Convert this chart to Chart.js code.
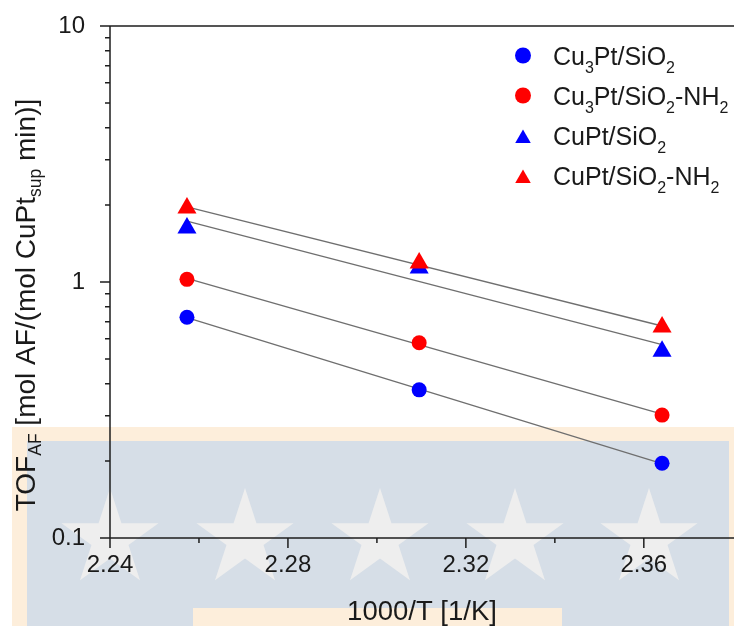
<!DOCTYPE html>
<html>
<head>
<meta charset="utf-8">
<script src="https://cdn.jsdelivr.net/npm/chart.js@4.4.1/dist/chart.umd.min.js"></script>
<style>
  html, body { margin: 0; padding: 0; background: #ffffff; }
  canvas { display: block; }
</style>
</head>
<body>
<canvas id="c" width="734" height="626"></canvas>
<script>
// Inverse reaction temperature, 1000/T [1/K] (443 K, 433 K, 423 K)
const invT = [2.2573, 2.3095, 2.3641];

// Turnover frequency of AF [mol AF/(mol CuPt_sup min)]
const cu3ptSiO2     = [0.728, 0.379, 0.196];
const cu3ptSiO2NH2  = [1.024, 0.579, 0.302];
const cuptSiO2      = [1.626, 1.134, 0.537];
const cuptSiO2NH2   = [1.946, 1.186, 0.667];

// Axis ticks
const xMajorTicks = [2.24, 2.28, 2.32, 2.36];
const xMinorTicks = [2.26, 2.30, 2.34];
const yMajorTicks = [0.1, 1, 10];
const yMinorTicks = [0.2, 0.3, 0.4, 0.5, 0.6, 0.7, 0.8, 0.9, 2, 3, 4, 5, 6, 7, 8, 9];

// Labels written as [text, isSubscript] runs
const labelCu3ptSiO2    = [['Cu', 0], ['3', 1], ['Pt/SiO', 0], ['2', 1]];
const labelCu3ptSiO2NH2 = [['Cu', 0], ['3', 1], ['Pt/SiO', 0], ['2', 1], ['-NH', 0], ['2', 1]];
const labelCuptSiO2     = [['CuPt/SiO', 0], ['2', 1]];
const labelCuptSiO2NH2  = [['CuPt/SiO', 0], ['2', 1], ['-NH', 0], ['2', 1]];
const yTitleRuns = [['TOF', 0], ['AF', 1], [' [mol AF/(mol CuPt', 0], ['sup', 1], [' min)]', 0]];
const xTitleText = '1000/T [1/K]';

const FONT = '"Liberation Sans", Arial, Helvetica, sans-serif';
const TEXT = '#1a1a1a';
const BLUE = '#0000ff';
const RED = '#ff0000';

const series = [
  { runs: labelCu3ptSiO2,    values: cu3ptSiO2,    color: BLUE, style: 'circle',   radius: 7.5 },
  { runs: labelCu3ptSiO2NH2, values: cu3ptSiO2NH2, color: RED,  style: 'circle',   radius: 7.5 },
  { runs: labelCuptSiO2,     values: cuptSiO2,     color: BLUE, style: 'triangle', radius: 11 },
  { runs: labelCuptSiO2NH2,  values: cuptSiO2NH2,  color: RED,  style: 'triangle', radius: 11 }
];

// Least-squares line through log10(TOF) vs 1000/T, returned as its two end points
function arrheniusFit(xs, ys) {
  const n = xs.length;
  const ly = ys.map(v => Math.log10(v));
  const mx = xs.reduce((a, b) => a + b, 0) / n;
  const my = ly.reduce((a, b) => a + b, 0) / n;
  let sxy = 0, sxx = 0;
  for (let i = 0; i < n; i++) { sxy += (xs[i] - mx) * (ly[i] - my); sxx += (xs[i] - mx) ** 2; }
  const b = sxy / sxx, a = my - b * mx;
  const x0 = Math.min(...xs), x1 = Math.max(...xs);
  return [{ x: x0, y: Math.pow(10, a + b * x0) }, { x: x1, y: Math.pow(10, a + b * x1) }];
}

const pointSets = series.map(s => ({
  data: invT.map((x, i) => ({ x, y: s.values[i] })),
  showLine: false,
  pointStyle: s.style,
  pointRadius: s.radius,
  pointHoverRadius: s.radius,
  pointBackgroundColor: s.color,
  pointBorderColor: s.color,
  pointBorderWidth: 0,
  order: 0
}));
// red symbols drawn above the blue ones where they overlap
const drawnPoints = [pointSets[3], pointSets[2], pointSets[1], pointSets[0]];

const fitSets = series.map(s => ({
  data: arrheniusFit(invT, s.values),
  showLine: true,
  borderColor: '#6f6f6f',
  borderWidth: 1.3,
  pointRadius: 0,
  fill: false,
  order: 1
}));

function runsDraw(ctx, runs, x, y, size, subSize, subDrop) {
  for (const [t, sub] of runs) {
    ctx.font = (sub ? subSize : size) + 'px ' + FONT;
    ctx.fillText(t, x, y + (sub ? subDrop : 0));
    x += ctx.measureText(t).width;
  }
  return x;
}
function runsWidth(ctx, runs, size, subSize) {
  let w = 0;
  for (const [t, sub] of runs) {
    ctx.font = (sub ? subSize : size) + 'px ' + FONT;
    w += ctx.measureText(t).width;
  }
  return w;
}

// Pale banded backdrop with stars behind the plot
const backdrop = {
  id: 'backdrop',
  beforeDraw(chart) {
    const ctx = chart.ctx;
    ctx.save();
    ctx.fillStyle = '#ffffff';
    ctx.fillRect(0, 0, chart.width, chart.height);
    ctx.fillStyle = '#fdeedb';
    ctx.fillRect(12, 427, chart.width - 12, chart.height - 427);
    ctx.fillStyle = '#d6dee7';
    ctx.fillRect(27, 441, 702, chart.height - 441);
    ctx.fillStyle = '#fdeedb';
    ctx.fillRect(193, 608, 369, chart.height - 608);
    ctx.fillStyle = '#eeeeee';
    const R = 51, r = R * 0.382, cy = 539;
    for (const cx of [110, 245, 380, 515, 649]) {
      ctx.beginPath();
      for (let k = 0; k < 10; k++) {
        const ang = -Math.PI / 2 + k * Math.PI / 5;
        const rad = k % 2 ? r : R;
        const px = cx + rad * Math.cos(ang), py = cy + rad * Math.sin(ang);
        k ? ctx.lineTo(px, py) : ctx.moveTo(px, py);
      }
      ctx.closePath();
      ctx.fill();
    }
    ctx.restore();
  }
};

// Axis lines, tick marks, axis titles and legend
const frame = {
  id: 'frame',
  afterDraw(chart) {
    const ctx = chart.ctx;
    const { left, top, bottom } = chart.chartArea;
    const xs = chart.scales.x, ys = chart.scales.y;
    ctx.save();
    ctx.strokeStyle = '#1e1e1e';
    ctx.lineWidth = 1.5;
    ctx.beginPath();
    ctx.moveTo(left, top); ctx.lineTo(left, bottom);
    ctx.moveTo(left, bottom); ctx.lineTo(chart.width, bottom);
    ctx.moveTo(left - 10, top); ctx.lineTo(chart.width, top);
    for (const v of yMajorTicks) { const p = ys.getPixelForValue(v); ctx.moveTo(left - 10, p); ctx.lineTo(left, p); }
    for (const v of yMinorTicks) { const p = ys.getPixelForValue(v); ctx.moveTo(left - 5, p); ctx.lineTo(left, p); }
    for (const v of xMajorTicks) { const p = xs.getPixelForValue(v); ctx.moveTo(p, bottom); ctx.lineTo(p, bottom + 10); }
    for (const v of xMinorTicks) { const p = xs.getPixelForValue(v); ctx.moveTo(p, bottom); ctx.lineTo(p, bottom + 5); }
    ctx.stroke();

    ctx.fillStyle = TEXT;
    ctx.textBaseline = 'alphabetic';
    ctx.textAlign = 'left';

    // x title, centred under the full visible axis
    ctx.font = '27.5px ' + FONT;
    const xw = ctx.measureText(xTitleText).width;
    ctx.fillText(xTitleText, (left + chart.width) / 2 - xw / 2, 620);

    // y title, rotated
    const tw = runsWidth(ctx, yTitleRuns, 28, 17.5);
    ctx.save();
    ctx.translate(35, 305);
    ctx.rotate(-Math.PI / 2);
    runsDraw(ctx, yTitleRuns, -tw / 2, 0, 28, 17.5, 6);
    ctx.restore();

    // legend
    series.forEach((s, i) => {
      const base = 65 + i * 40;
      const my = s.style === 'circle' ? base - 9.5 : base - 6.5;
      ctx.fillStyle = s.color;
      Chart.helpers.drawPoint(ctx, {
        pointStyle: s.style,
        radius: s.style === 'circle' ? 8 : 9,
        rotation: 0,
        borderWidth: 0
      }, 523, my);
      ctx.fillStyle = TEXT;
      runsDraw(ctx, s.runs, 553, base, 25, 16, 8);
    });
    ctx.restore();
  }
};

new Chart(document.getElementById('c'), {
  type: 'scatter',
  data: { datasets: [...drawnPoints, ...fitSets] },
  options: {
    responsive: false,
    devicePixelRatio: 1,
    animation: false,
    events: [],
    layout: { padding: { top: 26, right: 0, left: 0, bottom: 0 } },
    plugins: { legend: { display: false }, tooltip: { enabled: false } },
    scales: {
      x: {
        type: 'linear',
        min: 2.24,
        max: 2.3778,
        grid: { display: false, drawTicks: false },
        border: { display: false },
        afterBuildTicks: s => { s.ticks = xMajorTicks.map(v => ({ value: v })); },
        afterFit: s => { s.height = 88; s.paddingLeft = 0; s.paddingRight = 0; },
        ticks: {
          autoSkip: false,
          maxRotation: 0,
          padding: 13,
          color: TEXT,
          font: { family: FONT, size: 24 },
          callback: v => Number(v).toFixed(2)
        }
      },
      y: {
        type: 'logarithmic',
        min: 0.1,
        max: 10,
        grid: { display: false, drawTicks: false },
        border: { display: false },
        afterBuildTicks: s => { s.ticks = yMajorTicks.map(v => ({ value: v })); },
        afterFit: s => { s.width = 110; s.paddingTop = 0; s.paddingBottom = 0; },
        ticks: {
          autoSkip: false,
          padding: 25,
          color: TEXT,
          font: { family: FONT, size: 24 },
          callback: v => String(v)
        }
      }
    }
  },
  plugins: [backdrop, frame]
});
</script>
</body>
</html>
